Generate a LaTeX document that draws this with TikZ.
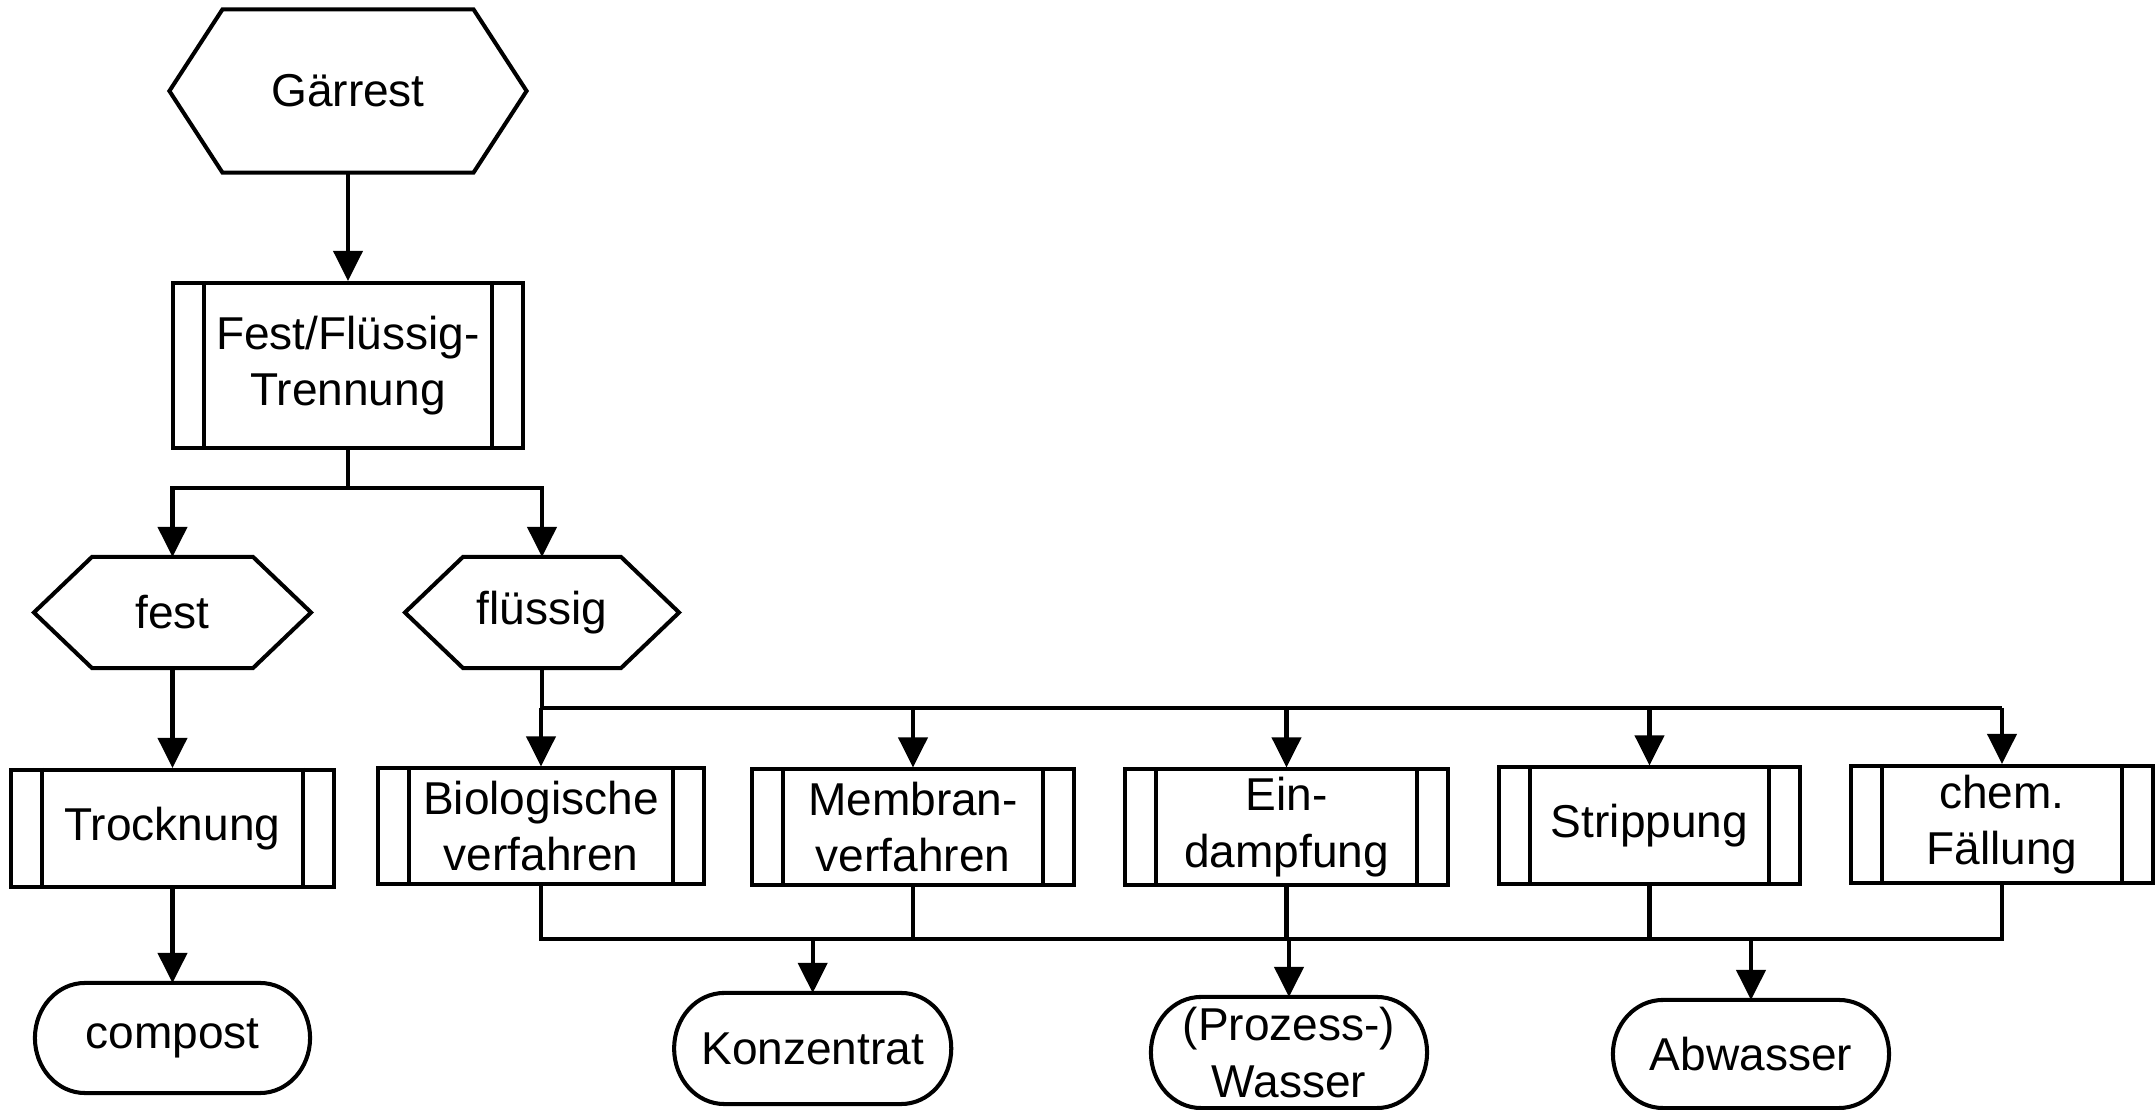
\documentclass[tikz,border=0pt]{standalone}
\usepackage{fontspec}
\setmainfont{Liberation Sans}
\usetikzlibrary{arrows.meta}
\newcommand\sublines[1]{\draw ([xshift=0.33cm]#1.north west) -- ([xshift=0.33cm]#1.south west) ([xshift=-0.33cm]#1.north east) -- ([xshift=-0.33cm]#1.south east);}
\newcommand\hexline[2]{\draw ([xshift=#2]#1.north west) -- ([xshift=-#2]#1.north east) -- (#1.east) -- ([xshift=-#2]#1.south east) -- ([xshift=#2]#1.south west) -- (#1.west) -- cycle;}
\newcommand\termline[2]{\draw ([xshift=0.5cm]#1.north west) -- ([xshift=-0.5cm]#1.north east) arc[start angle=90,end angle=-90,x radius=0.5cm,y radius=#2] -- ([xshift=0.5cm]#1.south west) arc[start angle=270,end angle=90,x radius=0.5cm,y radius=#2] -- cycle;}
\begin{document}
\begin{tikzpicture}[x=0.01cm,y=-0.01cm,line width=1.15pt,line join=miter,
  txt/.style={font=\fontsize{13.1}{16}\selectfont,align=center,inner sep=0pt,outer sep=0pt,draw=none,rectangle},
  proc/.style={txt,draw,outer sep=0.575pt},
  arr/.style={-{Triangle[length=0.3cm,width=0.29cm]}}]
\useasboundingbox (0,0) rectangle (2156,1110);
% top
\node[txt,minimum width=3.57cm,minimum height=1.63cm] (g) at (348,91) {Gärrest};
\hexline{g}{0.53cm}
\node[proc,minimum width=3.50cm,minimum height=1.65cm] (ff) at (348,365.5) {Fest/Flüssig-\\Trennung};
\sublines{ff}
\node[txt,minimum width=2.77cm,minimum height=1.11cm] (fest) at (172.5,612.5) {fest};
\hexline{fest}{0.58cm}
\node[txt,minimum width=2.74cm,minimum height=1.11cm] (fl) at (542,612.5) {flüssig};
\hexline{fl}{0.58cm}
\node[proc,minimum width=3.23cm,minimum height=1.17cm] (tr) at (172.5,828.5) {Trocknung};
\sublines{tr}
\node[proc,minimum width=3.26cm,minimum height=1.15cm] (bio) at (541,826) {Biologische\\verfahren};
\sublines{bio}
\node[proc,minimum width=3.22cm,minimum height=1.15cm] (mem) at (913,827) {Membran-\\verfahren};
\sublines{mem}
\node[proc,minimum width=3.23cm,minimum height=1.15cm] (ein) at (1286.5,827) {Ein-\\dampfung};
\sublines{ein}
\node[proc,minimum width=3.01cm,minimum height=1.16cm] (str) at (1649.5,825.5) {Strippung};
\sublines{str}
\node[proc,minimum width=3.02cm,minimum height=1.17cm] (chem) at (2002,824.5) {chem.\\Fällung};
\sublines{chem}
% terminals
\node[txt,minimum width=2.75cm,minimum height=1.10cm] (comp) at (172.5,1038) {compost};
\termline{comp}{0.55cm}
\node[txt,minimum width=2.77cm,minimum height=1.11cm] (konz) at (812.7,1048.5) {Konzentrat};
\termline{konz}{0.555cm}
\node[txt,minimum width=2.76cm,minimum height=1.11cm] (wass) at (1289,1052.5) {(Prozess-)\\Wasser};
\termline{wass}{0.555cm}
\node[txt,minimum width=2.76cm,minimum height=1.08cm] (abw) at (1751,1054) {Abwasser};
\termline{abw}{0.54cm}
% helper coordinates
\coordinate (b1) at (348,488);
\coordinate (d1) at (542,708);
\coordinate (c1) at (1000,939);
% connectors
\draw[arr] (g.south) -- (ff.north);
\draw (ff.south) -- (ff.south |- b1);
\draw[arr] (ff.south |- b1) -| (fest.north);
\draw[arr] (ff.south |- b1) -| (fl.north);
\draw[arr] (fest.south) -- (tr.north);
\draw[arr] (tr.south) -- (comp.north);
\draw (fl.south) -- (fl.south |- d1) -- (chem.north |- d1);
\draw[arr] (bio.north |- d1) -- (bio.north);
\draw[arr] (mem.north |- d1) -- (mem.north);
\draw[arr] (ein.north |- d1) -- (ein.north);
\draw[arr] (str.north |- d1) -- (str.north);
\draw[arr] (chem.north |- d1) -- (chem.north);
\draw (bio.south) -- (bio.south |- c1) -- (chem.south |- c1) -- (chem.south);
\draw (mem.south) -- (mem.south |- c1);
\draw (ein.south) -- (ein.south |- c1);
\draw (str.south) -- (str.south |- c1);
\draw[arr] (konz.north |- c1) -- (konz.north);
\draw[arr] (wass.north |- c1) -- (wass.north);
\draw[arr] (abw.north |- c1) -- (abw.north);
\end{tikzpicture}
\end{document}
